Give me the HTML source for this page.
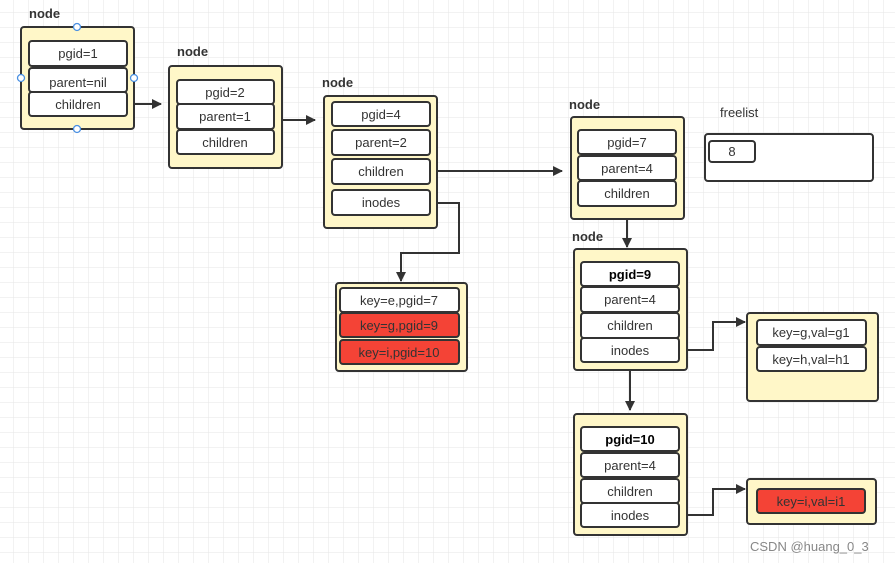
<!DOCTYPE html>
<html><head><meta charset="utf-8"><style>
body{margin:0;width:895px;height:563px;overflow:hidden;background:#fff}
svg text{font-family:"Liberation Sans",Arial,sans-serif;font-size:13px;fill:#333}
</style></head><body>
<svg width="895" height="563" xmlns="http://www.w3.org/2000/svg">
<defs>
<pattern id="g" x="13" y="12" width="15" height="15" patternUnits="userSpaceOnUse">
<path d="M0 0H15M0 0V15" stroke="#e6e6e6" stroke-width="1" fill="none"/>
</pattern>
<marker id="a" markerWidth="10" markerHeight="10" refX="9" refY="5" orient="auto" markerUnits="userSpaceOnUse"><path d="M0 0L10 5L0 10z" fill="#333"/></marker>
</defs>
<rect width="895" height="563" fill="url(#g)"/>
<g fill="none" stroke="#333" stroke-width="2">
<path d="M127 104H161" marker-end="url(#a)"/>
<path d="M282 120H315" marker-end="url(#a)"/>
<path d="M430 171H562" marker-end="url(#a)"/>
<path d="M430 203H459V253H401V281" marker-end="url(#a)"/>
<path d="M627 219V247" marker-end="url(#a)"/>
<path d="M679 350H713V322H745" marker-end="url(#a)"/>
<path d="M630 371V410" marker-end="url(#a)"/>
<path d="M679 515H713V489H745" marker-end="url(#a)"/>
</g>
<g stroke="#333" stroke-width="2" fill="#fff7c8">
<rect x="21" y="27" width="113" height="102" rx="3"/>
<rect x="169" y="66" width="113" height="102" rx="3"/>
<rect x="324" y="96" width="113" height="132" rx="3"/>
<rect x="336" y="283" width="131" height="88" rx="3"/>
<rect x="571" y="117" width="113" height="102" rx="3"/>
<rect x="574" y="249" width="113" height="121" rx="3"/>
<rect x="747" y="313" width="131" height="88" rx="3"/>
<rect x="574" y="414" width="113" height="121" rx="3"/>
<rect x="747" y="479" width="129" height="45" rx="3"/>
<rect x="705" y="134" width="168" height="47" rx="3" fill="#fff"/>
</g>
<g stroke="#333" stroke-width="2" fill="#fff">
<rect x="29" y="41" width="98" height="25" rx="3"/>
<rect x="29" y="68" width="98" height="24" rx="3"/>
<rect x="29" y="92" width="98" height="24" rx="3"/>
<rect x="177" y="80" width="97" height="24" rx="3"/>
<rect x="177" y="104" width="97" height="25" rx="3"/>
<rect x="177" y="130" width="97" height="24" rx="3"/>
<rect x="332" y="102" width="98" height="24" rx="3"/>
<rect x="332" y="130" width="98" height="25" rx="3"/>
<rect x="332" y="159" width="98" height="25" rx="3"/>
<rect x="332" y="190" width="98" height="25" rx="3"/>
<rect x="340" y="288" width="119" height="24" rx="3"/>
<rect x="340" y="313" width="119" height="24" rx="3" fill="#f44336"/>
<rect x="340" y="340" width="119" height="24" rx="3" fill="#f44336"/>
<rect x="578" y="130" width="98" height="24" rx="3"/>
<rect x="578" y="156" width="98" height="24" rx="3"/>
<rect x="578" y="181" width="98" height="25" rx="3"/>
<rect x="581" y="262" width="98" height="24" rx="3"/>
<rect x="581" y="287" width="98" height="25" rx="3"/>
<rect x="581" y="313" width="98" height="25" rx="3"/>
<rect x="581" y="338" width="98" height="24" rx="3"/>
<rect x="757" y="320" width="109" height="25" rx="3"/>
<rect x="757" y="347" width="109" height="24" rx="3"/>
<rect x="581" y="427" width="98" height="24" rx="3"/>
<rect x="581" y="453" width="98" height="24" rx="3"/>
<rect x="581" y="479" width="98" height="24" rx="3"/>
<rect x="581" y="503" width="98" height="24" rx="3"/>
<rect x="757" y="489" width="108" height="24" rx="3" fill="#f44336"/>
<rect x="709" y="141" width="46" height="21" rx="3"/>
</g>
<g fill="#fff" stroke="#4a90e2" stroke-width="1.3">
<circle cx="77" cy="27" r="3.5"/><circle cx="77" cy="129" r="3.5"/><circle cx="21" cy="78" r="3.5"/><circle cx="134" cy="78" r="3.5"/>
</g>
<g font-weight="bold" style="font-weight:bold">
<text x="29" y="18" style="font-weight:bold">node</text>
<text x="177" y="56" style="font-weight:bold">node</text>
<text x="322" y="87" style="font-weight:bold">node</text>
<text x="569" y="109" style="font-weight:bold">node</text>
<text x="572" y="241" style="font-weight:bold">node</text>
</g>
<g text-anchor="middle">
<text x="78" y="58">pgid=1</text>
<text x="78" y="87">parent=nil</text>
<text x="78" y="109">children</text>
<text x="225" y="97">pgid=2</text>
<text x="225" y="121">parent=1</text>
<text x="225" y="147">children</text>
<text x="381" y="119">pgid=4</text>
<text x="381" y="147">parent=2</text>
<text x="381" y="176">children</text>
<text x="381" y="207">inodes</text>
<text x="399" y="305">key=e,pgid=7</text>
<text x="399" y="330">key=g,pgid=9</text>
<text x="399" y="357">key=i,pgid=10</text>
<text x="627" y="147">pgid=7</text>
<text x="627" y="173">parent=4</text>
<text x="627" y="198">children</text>
<text x="630" y="279" style="font-weight:bold;fill:#000">pgid=9</text>
<text x="630" y="304">parent=4</text>
<text x="630" y="330">children</text>
<text x="630" y="355">inodes</text>
<text x="811" y="337">key=g,val=g1</text>
<text x="811" y="364">key=h,val=h1</text>
<text x="630" y="444" style="font-weight:bold;fill:#000">pgid=10</text>
<text x="630" y="470">parent=4</text>
<text x="630" y="496">children</text>
<text x="630" y="520">inodes</text>
<text x="811" y="506">key=i,val=i1</text>
<text x="732" y="156">8</text>
</g>
<text x="720" y="117">freelist</text>
<text x="750" y="551" style="fill:#888;font-size:13px">CSDN @huang_0_3</text>
</svg>
</body></html>
